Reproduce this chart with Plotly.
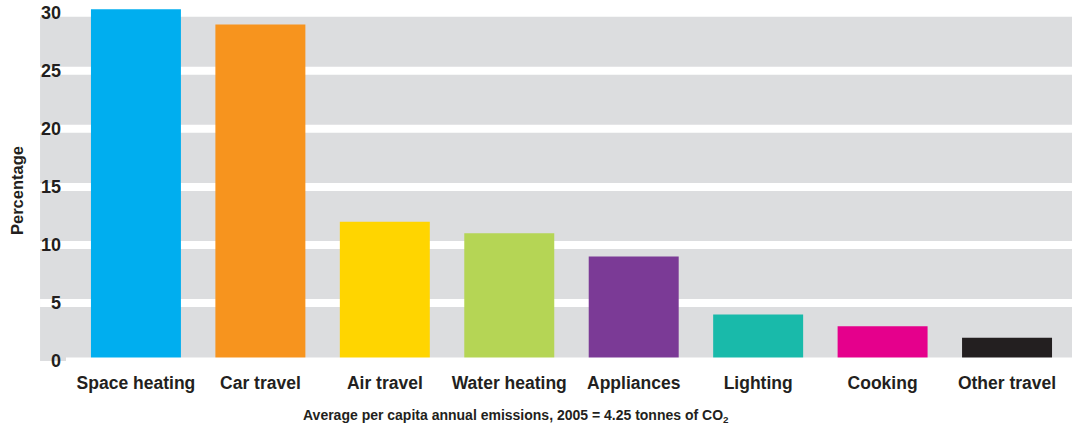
import plotly.graph_objects as go

# Share of average per-capita CO2 emissions by activity
categories = ["Space heating", "Car travel", "Air travel", "Water heating",
              "Appliances", "Lighting", "Cooking", "Other travel"]
percentages = [30.3, 29, 12, 11, 9, 4, 3, 2]
bar_colors = ["#00AEEF", "#F7941E", "#FFD500", "#B5D555",
              "#7B3A96", "#19BAAA", "#E5008C", "#231F20"]
y_ticks = [0, 5, 10, 15, 20, 25, 30]

TEXT = "#231F20"
BAND = "#DCDDDF"
FONT = "Liberation Sans, Arial, sans-serif"
LEFT_EXT = -0.0258  # grey panel reaches a little left of the plot area

fig = go.Figure(
    go.Bar(
        x=categories,
        y=percentages,
        marker=dict(color=bar_colors, line=dict(width=0)),
        hoverinfo="x+y",
    )
)

shapes = [
    # grey panel behind the bars
    dict(type="rect", xref="paper", yref="y", x0=LEFT_EXT, x1=1,
         y0=0, y1=max(y_ticks), fillcolor=BAND, line=dict(width=0), layer="below"),
]
# white separators at each tick level
for v in y_ticks[1:]:
    shapes.append(dict(type="line", xref="paper", yref="y", x0=LEFT_EXT, x1=1,
                       y0=v, y1=v, line=dict(color="white", width=8), layer="below"))
# thin white strip so the bars sit on the panel's lower edge
shapes.append(dict(type="rect", xref="paper", yref="y", x0=0, x1=1, y0=0, y1=0.3,
                   fillcolor="white", line=dict(width=0), layer="above"))

fig.update_layout(
    width=1072,
    height=425,
    margin=dict(l=66, r=0, t=0, b=64),
    paper_bgcolor="white",
    plot_bgcolor="white",
    bargap=0.277,
    showlegend=False,
    shapes=shapes,
    font=dict(family=FONT, color=TEXT, weight="bold"),
    xaxis=dict(
        range=[-0.562, 7.522],
        showgrid=False,
        zeroline=False,
        showline=False,
        ticks="",
        ticklabelstandoff=9,
        tickfont=dict(size=17.5, family=FONT, color=TEXT, weight="bold"),
    ),
    yaxis=dict(
        range=[0, 31.1],
        tickvals=y_ticks,
        ticktext=[str(v) for v in y_ticks],
        showgrid=False,
        zeroline=False,
        showline=False,
        ticks="",
        ticklabelstandoff=4,
        tickfont=dict(size=18, family=FONT, color=TEXT, weight="bold"),
    ),
    annotations=[
        dict(text="Average per capita annual emissions, 2005 = 4.25 tonnes of CO<sub>2</sub>",
             xref="paper", yref="paper", x=0.4473, y=1 - 416 / 361,
             xanchor="center", yanchor="middle", showarrow=False,
             font=dict(size=14, family=FONT, color=TEXT, weight="bold")),
        dict(text="Percentage", textangle=-90,
             xref="paper", yref="paper", x=(17 - 66) / 1006, y=1 - 191 / 361,
             xanchor="center", yanchor="middle", showarrow=False,
             font=dict(size=16.5, family=FONT, color=TEXT, weight="bold")),
    ],
)

fig.write_html("out.html")
